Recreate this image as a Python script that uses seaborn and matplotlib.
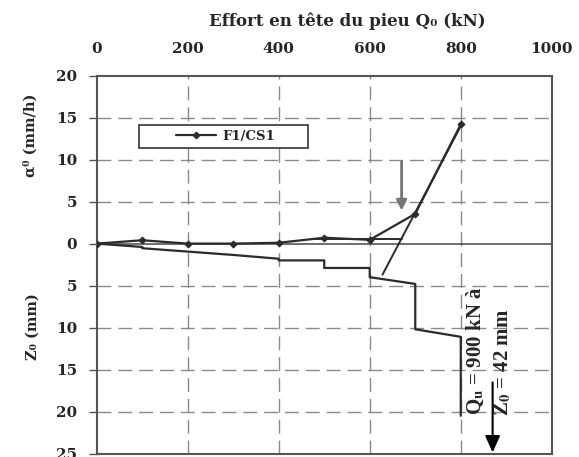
import matplotlib
matplotlib.use("Agg")
import matplotlib.pyplot as plt
from matplotlib.patches import Rectangle
import seaborn as sns
import pandas as pd
import numpy as np

# ---- data ----
q_alpha = [0, 100, 200, 300, 400, 500, 600, 700, 800]
alpha0 = [0, 0.4, 0.0, 0.0, 0.1, 0.7, 0.45, 3.55, 14.2]

q_z = [0, 100, 100, 200, 300, 400, 400, 500, 500, 600, 600, 700, 700, 800, 800]
z0 = [0, 0.4, 0.55, 0.95, 1.35, 1.8, 2.0, 2.0, 2.9, 2.9, 4.0, 4.8, 10.2, 11.1, 20.5]

tan1_q = [480, 670]
tan1_a = [0.5, 0.5]
tan2_q = [628, 802]
tan2_a = [-3.7, 14.2]

x_ticks = [0, 200, 400, 600, 800, 1000]
y_ticks = [20, 15, 10, 5, 0, -5, -10, -15, -20, -25]
y_labels = ["20", "15", "10", "5", "0", "5", "10", "15", "20", "25"]

sns.set_style("white")
plt.rcParams['font.family'] = ['DejaVu Serif', 'DejaVu Sans']
plt.rcParams['mathtext.fontset'] = 'dejavuserif'

fig = plt.figure(figsize=(5.79, 4.57), dpi=100)
ax = fig.add_axes([0.167, 0.0075, 0.786, 0.827])

line_col = "#2b2b2b"
grid_col = "#8a8a8a"

df_a = pd.DataFrame({"Q": q_alpha, "v": alpha0})
df_z = pd.DataFrame({"Q": q_z, "v": [-v for v in z0]})

sns.lineplot(data=df_a, x="Q", y="v", ax=ax, sort=False, estimator=None,
             color=line_col, lw=1.6, marker="D", markersize=3.5,
             markeredgecolor=line_col, label="F1/CS1", zorder=4)
sns.lineplot(data=df_z, x="Q", y="v", ax=ax, sort=False, estimator=None,
             color=line_col, lw=1.6, zorder=4, legend=False)
ax.plot(tan1_q, tan1_a, color=line_col, lw=1.4, zorder=3)
ax.plot(tan2_q, tan2_a, color=line_col, lw=1.4, zorder=3)

# gridlines
for gx in [200, 400, 600, 800]:
    ax.axvline(gx, color=grid_col, lw=1.0, ls=(0, (10, 5)), zorder=1)
for gy in [15, 10, 5, -5, -10, -15, -20]:
    ax.axhline(gy, color=grid_col, lw=1.0, ls=(0, (10, 5)), zorder=1)
ax.axhline(0, color="#555555", lw=1.2, zorder=2)

ax.set_xlim(0, 1000)
ax.set_ylim(-25, 20)
ax.xaxis.tick_top()
ax.xaxis.set_label_position("top")
ax.set_xticks(x_ticks)
ax.set_xticklabels([str(t) for t in x_ticks], fontsize=11, fontweight="bold")
ax.set_yticks(y_ticks)
ax.set_yticklabels(y_labels, fontsize=11, fontweight="bold")
ax.tick_params(axis="x", length=0, pad=14)
ax.tick_params(axis="y", direction="out", length=6, width=1.0, color="#555555", pad=8, left=True)
ax.set_xlabel("Effort en tête du pieu Q₀ (kN)", fontsize=12, fontweight="bold", labelpad=12)
ax.xaxis.label.set_x(0.55)
ax.set_ylabel("")
for s in ax.spines.values():
    s.set_color("#555555")
    s.set_linewidth(1.5)

fig.text(0.053, 1 - 135 / 457, "α⁰ (mm/h)", rotation=90, ha="center", va="center",
         fontsize=10.5, fontweight="bold")
fig.text(0.057, 1 - 327 / 457, "Z₀ (mm)", rotation=90, ha="center", va="center",
         fontsize=10.5, fontweight="bold")

# arrows
ax.annotate("", xy=(670, 3.6), xytext=(670, 10.1),
            arrowprops=dict(arrowstyle="-|>,head_length=0.6,head_width=0.3",
                            color="#777777", lw=2.0), zorder=5)
ax.annotate("", xy=(870, -25.2), xytext=(870, -16.2),
            arrowprops=dict(arrowstyle="-|>,head_length=1.0,head_width=0.45",
                            color="black", lw=1.5), zorder=5, annotation_clip=False)
ax.text(832, -12.8, "Q$_\\mathbf{u}$ = 900 kN à", rotation=90, ha="center", va="center",
        fontsize=15, fontweight="bold", family=["Liberation Serif", "DejaVu Serif"],
        math_fontfamily="stix", zorder=6)
ax.text(892, -14.2, "Z$_\\mathbf{0}$ = 42 mm", rotation=90, ha="center", va="center",
        fontsize=15, fontweight="bold", family=["Liberation Serif", "DejaVu Serif"],
        math_fontfamily="stix", zorder=6)

# legend: frame box + centered entries
box = Rectangle((0.0936, 0.808), 0.3708, 0.0616, transform=ax.transAxes,
                facecolor="white", edgecolor="#333333", lw=1.2, zorder=7)
ax.add_patch(box)
leg = ax.legend(loc="center", bbox_to_anchor=(0.283, 0.839), borderaxespad=0,
                frameon=False, handlelength=3.0, handletextpad=0.5,
                prop={"family": "DejaVu Serif", "weight": "bold", "size": 9.5})
leg.set_zorder(8)

fig.savefig("out.png", dpi=100)
